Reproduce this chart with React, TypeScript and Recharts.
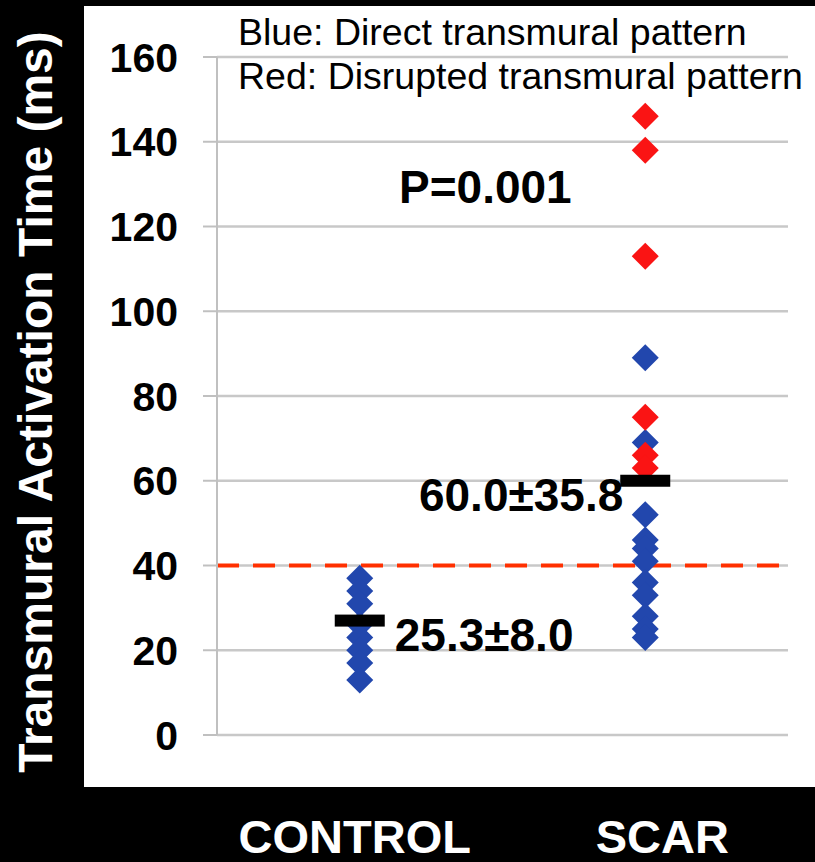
import React from 'react';
import {
  ScatterChart,
  Scatter,
  XAxis,
  YAxis,
  CartesianGrid,
  ReferenceLine,
  ReferenceDot,
} from 'recharts';

// ---- data ----
const categories = ['CONTROL', 'SCAR'];
const controlDirect = [37, 34, 31, 26, 23, 20, 17, 13];
const scarDirect = [89, 69, 52, 46, 44, 41, 36, 33, 28, 25, 23];
const scarDisrupted = [146, 138, 113, 75, 66, 63];
const groupMeans = [27, 60];
const meanLabels = ['25.3±8.0', '60.0±35.8'];
const yTicks = [0, 20, 40, 60, 80, 100, 120, 140, 160];
const thresholdValue = 40;
const pValueText = 'P=0.001';
const pValueAnchor = { x: 0.44, y: 125.5 };
const noteLines = ['Blue: Direct transmural pattern', 'Red: Disrupted transmural pattern'];
const yTitle = 'Transmural Activation Time (ms)';

const directData = [
  ...controlDirect.map((v) => ({ x: 0, y: v })),
  ...scarDirect.map((v) => ({ x: 1, y: v })),
];
const disruptedData = scarDisrupted.map((v) => ({ x: 1, y: v }));
const meanData = groupMeans.map((m, i) => ({ x: i, y: m, label: meanLabels[i] }));

const FONT = "'Liberation Sans', Arial, Helvetica, sans-serif";
const BLUE = '#2247ad';
const RED = '#fa1414';

const makeDiamond = (fill: string) => (props: any) => {
  const { cx, cy } = props;
  if (cx == null || cy == null) return null;
  const h = 13.5;
  return (
    <polygon
      points={`${cx},${cy - h} ${cx + h},${cy} ${cx},${cy + h} ${cx - h},${cy}`}
      fill={fill}
    />
  );
};

const MeanBar = (props: any) => {
  const { cx, cy, payload } = props;
  if (cx == null || cy == null) return null;
  const left = payload.x === 0;
  return (
    <g>
      <rect x={cx - 25} y={cy - 6} width={50} height={12} fill="#000" />
      <text
        x={left ? cx + 35 : cx - 22}
        y={cy + 30}
        textAnchor={left ? 'start' : 'end'}
        fontFamily={FONT}
        fontWeight="bold"
        fontSize={46}
        fill="#000"
      >
        {payload.label}
      </text>
    </g>
  );
};

const PText = (props: any) => {
  const { cx, cy } = props;
  return (
    <text
      x={cx}
      y={cy}
      textAnchor="middle"
      fontFamily={FONT}
      fontWeight="bold"
      fontSize={46}
      fill="#000"
    >
      {pValueText}
    </text>
  );
};

const catOffsets = [-5, 17];
const XTick = (props: any) => {
  const { x, y, payload } = props;
  const i = payload.value as number;
  return (
    <text
      x={x + catOffsets[i]}
      y={y + 118}
      textAnchor="middle"
      fontFamily={FONT}
      fontWeight="bold"
      fontSize={47}
      fill="#fff"
    >
      {categories[i]}
    </text>
  );
};

const YTitle = (props: any) => {
  const { viewBox } = props;
  const cx = viewBox.x + 52;
  const cy = viewBox.y + viewBox.height / 2 + 6;
  return (
    <text
      x={cx}
      y={cy}
      transform={`rotate(-90, ${cx}, ${cy})`}
      textAnchor="middle"
      fontFamily={FONT}
      fontWeight="bold"
      fontSize={48}
      fill="#fff"
    >
      {yTitle}
    </text>
  );
};

export default function App() {
  return (
    <div style={{ position: 'absolute', left: 0, top: 0, width: 815, height: 862, background: '#000', overflow: 'hidden' }}>
      <div style={{ position: 'absolute', left: 84, top: 6, width: 731, height: 781, background: '#fff' }} />
      <div style={{ position: 'absolute', left: 0, top: 0 }}>
        <ScatterChart
          width={815}
          height={862}
          margin={{ top: 57, right: 27, bottom: 0, left: 0 }}
        >
          <CartesianGrid horizontal vertical={false} stroke="#c8c8c8" strokeWidth={2.5} />
          <XAxis
            type="number"
            dataKey="x"
            domain={[-0.5, 1.5]}
            ticks={[0, 1]}
            height={127}
            axisLine={false}
            tickLine={false}
            tickSize={0}
            tickMargin={0}
            tick={<XTick />}
            interval={0}
          />
          <YAxis
            type="number"
            dataKey="y"
            domain={[0, 160]}
            ticks={yTicks}
            width={217}
            axisLine={{ stroke: '#c0c0c0', strokeWidth: 2 }}
            tickLine={{ stroke: '#c0c0c0', strokeWidth: 2 }}
            tickSize={14}
            tickMargin={25}
            tick={{ fontFamily: FONT, fontWeight: 'bold', fontSize: 41, fill: '#000' }}
            interval={0}
            label={<YTitle />}
          />
          <ReferenceLine
            y={thresholdValue}
            stroke="#ff3000"
            strokeWidth={4}
            strokeDasharray="22 14"
          />
          <Scatter data={directData} fill={BLUE} shape={makeDiamond(BLUE)} isAnimationActive={false} />
          <Scatter data={disruptedData} fill={RED} shape={makeDiamond(RED)} isAnimationActive={false} />
          <Scatter data={meanData} fill="#000" shape={<MeanBar />} isAnimationActive={false} />
          <ReferenceDot x={pValueAnchor.x} y={pValueAnchor.y} r={0} shape={<PText />} />
        </ScatterChart>
      </div>
      <svg style={{ position: 'absolute', left: 0, top: 0 }} width={815} height={862}>
        {noteLines.map((t, i) => (
          <text key={i} x={238} y={45 + i * 44} fontFamily={FONT} fontSize={37.5} fill="#000">
            {t}
          </text>
        ))}
      </svg>
    </div>
  );
}
